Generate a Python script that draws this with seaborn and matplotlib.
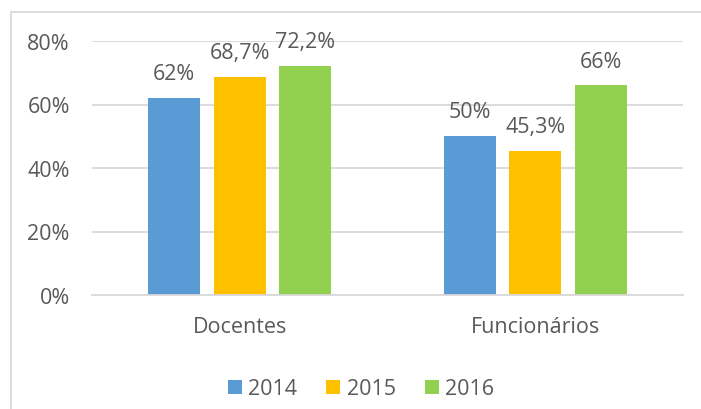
import matplotlib
matplotlib.use("Agg")
import matplotlib.pyplot as plt
from matplotlib.lines import Line2D
from matplotlib.patches import Patch
import seaborn as sns
import pandas as pd

categories = ["Docentes", "Funcionários"]
years = ["2014", "2015", "2016"]
values_2014 = [62.0, 50.0]
values_2015 = [68.7, 45.3]
values_2016 = [72.2, 66.0]
labels_2014 = ["62%", "50%"]
labels_2015 = ["68,7%", "45,3%"]
labels_2016 = ["72,2%", "66%"]
colors = ["#5B9BD5", "#FFC000", "#92D050"]
yticks = [0, 20, 40, 60, 80]
ytick_labels = ["0%", "20%", "40%", "60%", "80%"]

rows = []
for yr, vals in zip(years, [values_2014, values_2015, values_2016]):
    for c, v in zip(categories, vals):
        rows.append({"cat": c, "year": yr, "value": v})
df = pd.DataFrame(rows)
all_labels = [labels_2014, labels_2015, labels_2016]

sns.set_style("white")
plt.rcParams["font.family"] = ["Open Sans", "DejaVu Sans"]
txt = "#595959"
fs = 15.5
W, H = 701, 410
fig = plt.figure(figsize=(W / 100, H / 100), dpi=100)
ax = fig.add_axes([92 / W, 1 - 296 / H, (683 - 92) / W, (296 - 42) / H])

sns.barplot(data=df, x="cat", y="value", hue="year", hue_order=years,
            order=categories, palette=colors, width=0.665, gap=0.21,
            ax=ax, legend=False, saturation=1, linewidth=0)

ax.set_xlim(-0.5, 1.5)
ax.set_ylim(0, 80)
ax.set_yticks(yticks)
ax.set_yticklabels(ytick_labels)
ax.yaxis.grid(True, color="#D9D9D9", linewidth=1.3)
ax.set_axisbelow(True)
for s in ["left", "right", "top"]:
    ax.spines[s].set_visible(False)
ax.spines["bottom"].set_color("#D9D9D9")
ax.spines["bottom"].set_linewidth(1.3)
ax.set_xlabel("")
ax.set_ylabel("")
ax.tick_params(axis="both", length=0, labelsize=fs, colors=txt)
ax.tick_params(axis="y", pad=16)
ax.tick_params(axis="x", pad=15)

for cont, labs in zip(ax.containers, all_labels):
    ax.bar_label(cont, labels=labs, padding=10, fontsize=fs, color=txt)

handles = [Patch(facecolor=c, edgecolor="none") for c in colors]
fig.legend(handles, years, loc="center", bbox_to_anchor=(361 / W, 1 - 390 / H),
           ncol=3, frameon=False, fontsize=fs, labelcolor=txt,
           handlelength=0.65, handleheight=0.65, handletextpad=0.3,
           columnspacing=1.35)

fig.add_artist(Line2D([11 / W, 11 / W], [0, 1 - 13 / H], color="#D9D9D9",
                      linewidth=1.3, transform=fig.transFigure))
fig.add_artist(Line2D([11 / W, 1], [1 - 13 / H, 1 - 13 / H], color="#D9D9D9",
                      linewidth=1.3, transform=fig.transFigure))

fig.savefig("out.png", dpi=100)
